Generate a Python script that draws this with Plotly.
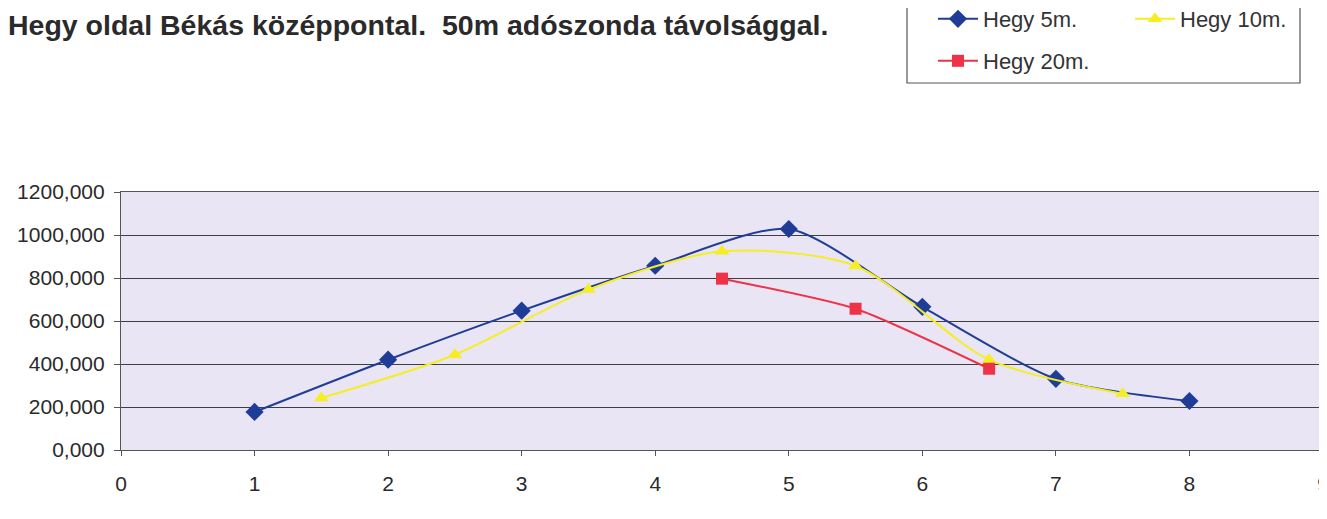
import plotly.graph_objects as go

# ---- data ----
title_text = "Hegy oldal Békás középpontal.  50m adószonda távolsággal."

x_5m = [1, 2, 3, 4, 5, 6, 7, 8]
y_5m = [177, 420, 648, 857, 1028, 666, 331, 228]

x_10m = [1.5, 2.5, 3.5, 4.5, 5.5, 6.5, 7.5]
y_10m = [242, 443, 746, 924, 856, 420, 262]

x_20m = [4.5, 5.5, 6.5]
y_20m = [797, 657, 378]

series_names = ["Hegy 5m.", "Hegy 10m.", "Hegy 20m."]

x_tickvals = [0, 1, 2, 3, 4, 5, 6, 7, 8, 9]
x_ticktext = ["0", "1", "2", "3", "4", "5", "6", "7", "8", "9"]
y_tickvals = [0, 200, 400, 600, 800, 1000, 1200]
y_ticktext = ["0,000", "200,000", "400,000", "600,000", "800,000", "1000,000", "1200,000"]

# ---- styling ----
FONT = "Liberation Sans, Arial, sans-serif"
BLUE = "#1f3d96"
YELLOW = "#f4ee22"
RED = "#ee3348"

fig = go.Figure()
fig.add_trace(go.Scatter(
    x=x_5m, y=y_5m, name=series_names[0], mode="lines+markers",
    line=dict(color=BLUE, width=2, shape="spline", smoothing=0.7),
    marker=dict(symbol="diamond", size=14, color=BLUE),
    legend="legend"))
fig.add_trace(go.Scatter(
    x=x_10m, y=y_10m, name=series_names[1], mode="lines+markers",
    line=dict(color=YELLOW, width=2, shape="spline", smoothing=0.8),
    marker=dict(symbol="triangle-up", size=13, color=YELLOW),
    legend="legend2"))
fig.add_trace(go.Scatter(
    x=x_20m, y=y_20m, name=series_names[2], mode="lines+markers",
    line=dict(color=RED, width=2, shape="spline", smoothing=0.6),
    marker=dict(symbol="square", size=12, color=RED),
    legend="legend3"))

# page has an 8px body offset; positions below are in figure pixels
L, R, T, B = 113, 12, 184, 77
W, H = 1327, 519
pw, ph = W - L - R, H - T - B

def px_x(p):
    return (p - L) / pw

def px_y(p):
    return (H - B - p) / ph

leg_common = dict(
    font=dict(family=FONT, size=22, color="#333333"),
    bgcolor="rgba(0,0,0,0)", borderwidth=0,
    xanchor="left", yanchor="middle", itemwidth=40,
)

fig.update_layout(
    width=W, height=H,
    margin=dict(l=L, r=R, t=T, b=B, autoexpand=False),
    paper_bgcolor="white",
    plot_bgcolor="#e9e5f5",
    font=dict(family=FONT, size=21, color="#2a2a2a"),
    title=dict(text="<b>" + title_text + "</b>",
               x=0, xanchor="left", xref="container",
               y=1 - 17 / H, yanchor="middle", pad=dict(l=0, r=0, t=0, b=0),
               font=dict(family=FONT, size=28.5, color="#2a2a2a")),
    legend=dict(x=px_x(925), y=px_y(11), **leg_common),
    legend2=dict(x=px_x(1122), y=px_y(11), **leg_common),
    legend3=dict(x=px_x(925), y=px_y(53), **leg_common),
    showlegend=True,
    shapes=[dict(type="rect", xref="paper", yref="paper",
                 x0=px_x(899), x1=px_x(1292), y0=px_y(75), y1=px_y(-12),
                 line=dict(color="#555555", width=1.2), fillcolor="rgba(0,0,0,0)")],
)

fig.update_xaxes(
    range=[0, 9], tickvals=x_tickvals, ticktext=x_ticktext,
    showgrid=False, zeroline=False,
    showline=True, linecolor="#555555", linewidth=1.2, mirror=True,
    ticks="outside", ticklen=5, tickcolor="#555555",
    ticklabelstandoff=10,
    tickfont=dict(family=FONT, size=21, color="#2a2a2a"),
)
fig.update_yaxes(
    range=[0, 1200], tickvals=y_tickvals, ticktext=y_ticktext,
    showgrid=True, gridcolor="#3f3f3f", gridwidth=1, zeroline=False,
    showline=True, linecolor="#555555", linewidth=1.2, mirror=True,
    ticks="outside", ticklen=6, tickcolor="#555555",
    ticklabelstandoff=5,
    tickfont=dict(family=FONT, size=21, color="#2a2a2a"),
)

fig.write_html("out.html")
